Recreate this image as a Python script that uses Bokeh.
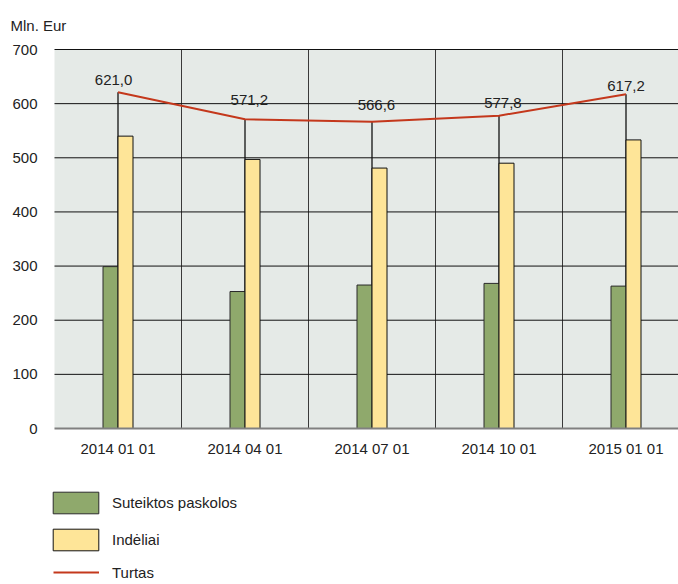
from bokeh.plotting import figure
from bokeh.models import Range1d, FixedTicker, Legend, LegendItem, ColumnDataSource, BoxAnnotation, Label
from bokeh.embed import file_html
from bokeh.resources import INLINE
from bokeh.core.properties import value

# ---- data ----
dates = ["2014 01 01", "2014 04 01", "2014 07 01", "2014 10 01", "2015 01 01"]
loans = [299, 253, 265, 268, 263]          # Suteiktos paskolos
deposits = [540, 497, 481, 490, 533]       # Indėliai
assets = [621.0, 571.2, 566.6, 577.8, 617.2]  # Turtas
asset_labels = ["621,0", "571,2", "566,6", "577,8", "617,2"]
y_ticks = [0, 100, 200, 300, 400, 500, 600, 700]

# ---- layout tweaks (label nudges) ----
label_dx = [-0.035, 0.034, 0.035, 0.031, 0.0]
label_dy = [23, 35, 30, 24, 15]

FONT = "Liberation Sans"
FS = "15px"
TXT = "#222222"
GREEN = "#8fa96c"
YELLOW = "#fee598"
RED = "#c4381c"
BG = "#e5eae7"

W, H = 678, 584
PX_CAT = 127.0               # pixels per category
PLOT_L, PLOT_T, PLOT_B = 54.0, 49.0, 428.0   # gray plotting area edges (px)
YMAX = 700.0
upp = YMAX / (PLOT_B - PLOT_T)  # data units per pixel (vertical)

x0 = 0.5
x_start = x0 - PLOT_L / PX_CAT
x_end = x0 + (W - PLOT_L) / PX_CAT
y_end = YMAX + PLOT_T * upp
y_start = -(H - PLOT_B) * upp

xc = [i + 1 for i in range(len(dates))]
bar_w = 15 / PX_CAT

src = ColumnDataSource(dict(
    x=xc,
    xl=[v - bar_w / 2 for v in xc],
    xr=[v + bar_w / 2 for v in xc],
    loans=loans, deposits=deposits, assets=assets, zero=[0] * len(xc),
    lab=asset_labels,
    lx=[v + d for v, d in zip(xc, label_dx)],
    ly=[a + d for a, d in zip(assets, label_dy)],
))

p = figure(width=W, height=H,
           x_range=Range1d(x_start, x_end), y_range=Range1d(y_start, y_end),
           output_backend="svg", toolbar_location=None,
           min_border_left=0, min_border_right=0, min_border_top=0, min_border_bottom=0)
p.background_fill_color = "white"
p.border_fill_color = "white"
p.outline_line_color = None
p.xgrid.visible = False
p.ygrid.visible = False

# gray plotting area
p.add_layout(BoxAnnotation(left=x0, bottom=0, top=YMAX, fill_color=BG, fill_alpha=1,
                           line_color=None, level="underlay"))

# grid lines
bounds = [x0 + k for k in range(1, len(dates))]
p.segment(x0=bounds, y0=[0] * len(bounds), x1=bounds, y1=[YMAX] * len(bounds),
          line_color="#3a3a3a", line_width=1)
hy = y_ticks[1:]
p.segment(x0=[x0] * len(hy), y0=hy, x1=[x_end] * len(hy), y1=hy,
          line_color="#111111", line_width=1)

# x axis at y = 0
p.xaxis.fixed_location = 0
p.xaxis.bounds = (x0, x_end)
p.xaxis.ticker = FixedTicker(ticks=xc)
p.xaxis.major_label_overrides = {v: d for v, d in zip(xc, dates)}
p.xaxis.axis_line_color = "#808080"
p.xaxis.axis_line_width = 2
p.xaxis.major_tick_line_color = None
p.xaxis.major_tick_out = 0
p.xaxis.major_tick_in = 0
p.xaxis.minor_tick_line_color = None
p.xaxis.major_label_standoff = 11
p.xaxis.major_label_text_font = FONT
p.xaxis.major_label_text_font_size = FS
p.xaxis.major_label_text_color = TXT

# y axis at the left edge of the gray area
p.yaxis.fixed_location = x0
p.yaxis.ticker = FixedTicker(ticks=y_ticks)
p.yaxis.axis_line_color = None
p.yaxis.major_tick_line_color = None
p.yaxis.major_tick_out = 0
p.yaxis.major_tick_in = 0
p.yaxis.minor_tick_line_color = None
p.yaxis.major_label_standoff = 17
p.yaxis.major_label_text_font = FONT
p.yaxis.major_label_text_font_size = FS
p.yaxis.major_label_text_color = TXT

# drop lines
p.segment(x0="x", y0="zero", x1="x", y1="assets", source=src, line_color="#111111", line_width=1.3)

# bars
r_loans = p.vbar(x="xl", top="loans", width=bar_w, source=src,
                 fill_color=GREEN, line_color="#2a2a2a", line_width=1)
r_dep = p.vbar(x="xr", top="deposits", width=bar_w, source=src,
               fill_color=YELLOW, line_color="#111111", line_width=1)

# line
r_line = p.line(x="x", y="assets", source=src, line_color=RED, line_width=2)

# value labels
p.text(x="lx", y="ly", text="lab", source=src, text_align="center", text_baseline="alphabetic",
       text_font=value(FONT), text_font_size=FS, text_color=TXT)

# unit label
p.add_layout(Label(x=x0 + (10 - PLOT_L) / PX_CAT, y=YMAX + (PLOT_T - 25) * upp, text="Mln. Eur",
                   text_font=FONT, text_font_size=FS, text_color=TXT,
                   text_baseline="alphabetic", text_align="left"))

# legends
leg1 = Legend(items=[LegendItem(label="Suteiktos paskolos", renderers=[r_loans]),
                     LegendItem(label="Indėliai", renderers=[r_dep])],
              location=(47, 31), orientation="vertical",
              glyph_width=57, glyph_height=27, spacing=10, padding=0, margin=0,
              label_standoff=8, label_text_font=FONT, label_text_font_size=FS,
              label_text_color=TXT, border_line_color=None, background_fill_alpha=0)
leg2 = Legend(items=[LegendItem(label="Turtas", renderers=[r_line])],
              location=(53, 1), orientation="vertical",
              glyph_width=46, glyph_height=22, spacing=0, padding=0, margin=0,
              label_standoff=13, label_text_font=FONT, label_text_font_size=FS,
              label_text_color=TXT, border_line_color=None, background_fill_alpha=0)
p.add_layout(leg1)
p.add_layout(leg2)

open("out.html", "w").write(file_html(p, INLINE))
